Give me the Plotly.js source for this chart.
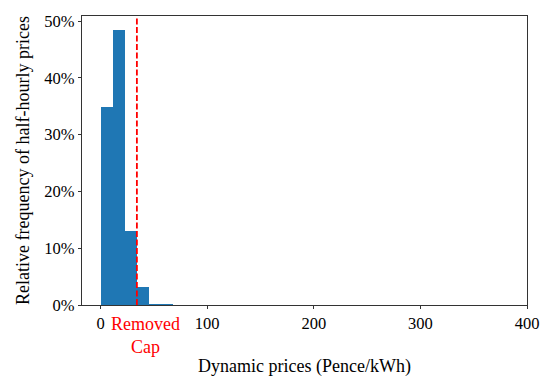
<!DOCTYPE html>
<html>
<head>
<meta charset="utf-8">
<script src="https://cdn.plot.ly/plotly-3.0.1.min.js"></script>
<style>
html,body{margin:0;padding:0;background:#fff;}
#chart{width:547px;height:378px;}
</style>
</head>
<body>
<div id="chart"></div>
<script>
// Histogram bin edges (Pence/kWh)
const binEdges = [0, 11.37, 22.73, 34.1, 45.47, 56.83, 68.2, 79.57, 90.93, 102.3, 113.67,
  125.03, 136.4, 147.77, 159.13, 170.5, 181.87, 193.23, 204.6, 215.97, 227.33,
  238.7, 250.07, 261.43, 272.8, 284.17, 295.53, 306.9, 318.27, 329.63, 341];
// Relative frequency (%) per bin
const freqPct = [34.9, 48.4, 13.0, 3.2, 0.26, 0.25, 0.03, 0.03, 0.03, 0.03,
  0.03, 0.03, 0.03, 0.03, 0.03, 0.03, 0.03, 0.03, 0.03, 0.03,
  0.03, 0.03, 0.03, 0.03, 0.03, 0.03, 0.03, 0.03, 0.03, 0.03];
const capValue = 34;
const capLabel = "Removed<br>Cap";
const xTicks = [0, 100, 200, 300, 400];
const xTickLabels = ["0", "100", "200", "300", "400"];
const yTicks = [0, 10, 20, 30, 40, 50];
const yTickLabels = ["0%", "10%", "20%", "30%", "40%", "50%"];

const centers = freqPct.map((_, i) => (binEdges[i] + binEdges[i + 1]) / 2);
const widths = freqPct.map((_, i) => binEdges[i + 1] - binEdges[i]);

const fam = "Liberation Serif, serif";
const tickFont = {family: fam, size: 16.5, color: "#000"};
const titleFont = {family: fam, size: 18, color: "#000"};

const data = [{
  type: "bar",
  x: centers,
  y: freqPct,
  width: widths,
  marker: {color: "#1f77b4", line: {width: 0}},
  hoverinfo: "skip"
}];

const layout = {
  width: 547, height: 378,
  margin: {l: 82, r: 20, t: 16, b: 73},
  paper_bgcolor: "#fff", plot_bgcolor: "#fff",
  font: tickFont,
  showlegend: false,
  bargap: 0,
  xaxis: {
    range: [-17.5, 400],
    tickmode: "array", tickvals: xTicks, ticktext: xTickLabels,
    ticks: "outside", ticklen: 3.5, tickwidth: 0.8, tickcolor: "#000",
    showline: true, linecolor: "#000", linewidth: 0.8, mirror: true,
    showgrid: false, zeroline: false,
    tickfont: tickFont,
    title: {text: "Dynamic prices (Pence/kWh)", font: titleFont, standoff: 27}
  },
  yaxis: {
    range: [0, 50.9],
    tickmode: "array", tickvals: yTicks, ticktext: yTickLabels,
    ticks: "outside", ticklen: 3.5, tickwidth: 0.8, tickcolor: "#000",
    showline: true, linecolor: "#000", linewidth: 0.8, mirror: true,
    showgrid: false, zeroline: false,
    tickfont: tickFont,
    title: {text: "Relative frequency of half-hourly prices", font: titleFont, standoff: 9}
  },
  shapes: [{
    type: "line", xref: "x", yref: "paper",
    x0: capValue, x1: capValue, y0: 0, y1: 1,
    line: {color: "#ff0000", width: 1.8, dash: "6px,2.5px"}
  }],
  annotations: [{
    x: capValue + 8.5, xref: "x",
    y: -0.025, yref: "paper",
    yanchor: "top", xanchor: "center",
    text: capLabel, showarrow: false,
    font: {family: fam, size: 18, color: "#ff0000"},
    align: "center"
  }]
};

Plotly.newPlot("chart", data, layout, {displayModeBar: false, staticPlot: true});
</script>
</body>
</html>
